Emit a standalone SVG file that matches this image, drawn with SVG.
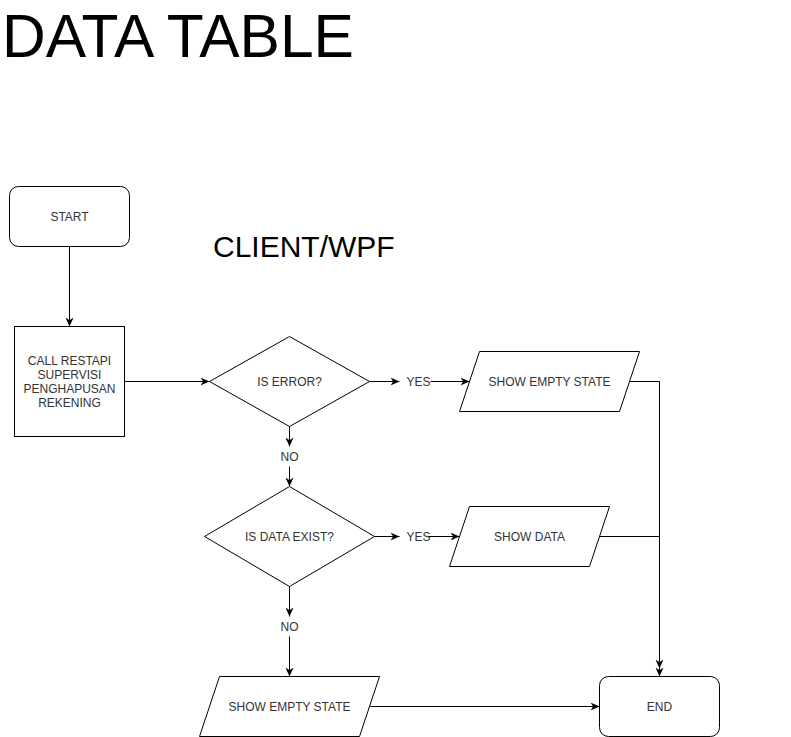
<svg xmlns="http://www.w3.org/2000/svg" width="791" height="737" viewBox="0 0 791 737">
<style>
.shape{fill:#ffffff;stroke:#000000;stroke-width:1}
.lbl{font-family:"Liberation Sans",Arial,sans-serif;font-size:12px;fill:#333333;text-anchor:middle;dominant-baseline:central}
.edge{fill:none;stroke:#000000;stroke-width:1;marker-end:url(#arrow)}
.line{fill:none;stroke:#000000;stroke-width:1}
</style>
<defs>
<marker id="arrow" markerUnits="userSpaceOnUse" viewBox="0 0 10 10" markerWidth="9" markerHeight="9" refX="10" refY="5" orient="auto">
<path d="M0,0.5 L10,5 L0,9.5 L3,5 z" fill="#000000"/>
</marker>
</defs>
<rect width="791" height="737" fill="#ffffff"/>
<g id="title">
<text x="2" y="57" font-family="'Liberation Sans',Arial,sans-serif" font-size="60.5" fill="#000000">DATA TABLE</text>
</g>
<g id="client-label">
<text x="213" y="257" font-family="'Liberation Sans',Arial,sans-serif" font-size="30" fill="#000000">CLIENT/WPF</text>
</g>
<g id="connectors">
<path class="edge" d="M69.5,246.5 L69.5,326.5"/>
<path class="edge" d="M124.5,381.5 L209.5,381.5"/>
<path class="edge" d="M369.5,381.5 L399.5,381.5"/>
<path class="edge" d="M430.5,381.5 L469.5,381.5"/>
<path class="edge" d="M289.5,426.5 L289.5,446.5"/>
<path class="edge" d="M289.5,466.5 L289.5,486.5"/>
<path class="edge" d="M374.5,536.5 L399.5,536.5"/>
<path class="edge" d="M428.5,536.5 L459.5,536.5"/>
<path class="edge" d="M289.5,586.5 L289.5,616.5"/>
<path class="edge" d="M289.5,636.5 L289.5,676.5"/>
<path class="edge" d="M370.5,706.5 L599.5,706.5"/>
<path class="edge" d="M629.5,381.5 L659.5,381.5 L659.5,676.5"/>
<path class="edge" d="M599.5,536.5 L659.5,536.5 L659.5,668.5"/>
<text class="lbl" x="418.5" y="381.5">YES</text>
<text class="lbl" x="418.5" y="536.5">YES</text>
<text class="lbl" x="289.5" y="456.5">NO</text>
<text class="lbl" x="289.5" y="626.5">NO</text>
</g>
<g id="start">
<rect class="shape" x="9.5" y="186.5" width="120" height="60" rx="9" ry="9"/>
<text class="lbl" x="69.5" y="216.5">START</text>
</g>
<g id="call-restapi">
<rect class="shape" x="14.5" y="326.5" width="110" height="110"/>
<text class="lbl" x="69.5" y="360.5">CALL RESTAPI</text>
<text class="lbl" x="69.5" y="374.5">SUPERVISI</text>
<text class="lbl" x="69.5" y="388.5">PENGHAPUSAN</text>
<text class="lbl" x="69.5" y="402.5">REKENING</text>
</g>
<g id="is-error">
<polygon class="shape" points="289.5,336.5 369.5,381.5 289.5,426.5 209.5,381.5"/>
<text class="lbl" x="289.5" y="381.5">IS ERROR?</text>
</g>
<g id="show-empty-state-1">
<polygon class="shape" points="479.5,351.5 639.5,351.5 619.5,411.5 459.5,411.5"/>
<text class="lbl" x="549.5" y="381.5">SHOW EMPTY STATE</text>
</g>
<g id="is-data-exist">
<polygon class="shape" points="289.5,486.5 374.5,536.5 289.5,586.5 204.5,536.5"/>
<text class="lbl" x="289.5" y="536.5">IS DATA EXIST?</text>
</g>
<g id="show-data">
<polygon class="shape" points="469.5,506.5 609.5,506.5 589.5,566.5 449.5,566.5"/>
<text class="lbl" x="529.5" y="536.5">SHOW DATA</text>
</g>
<g id="show-empty-state-2">
<polygon class="shape" points="219.5,676.5 379.5,676.5 359.5,736.5 199.5,736.5"/>
<text class="lbl" x="289.5" y="706.5">SHOW EMPTY STATE</text>
</g>
<g id="end">
<rect class="shape" x="599.5" y="676.5" width="120" height="60" rx="9" ry="9"/>
<text class="lbl" x="659.5" y="706.5">END</text>
</g>
</svg>
